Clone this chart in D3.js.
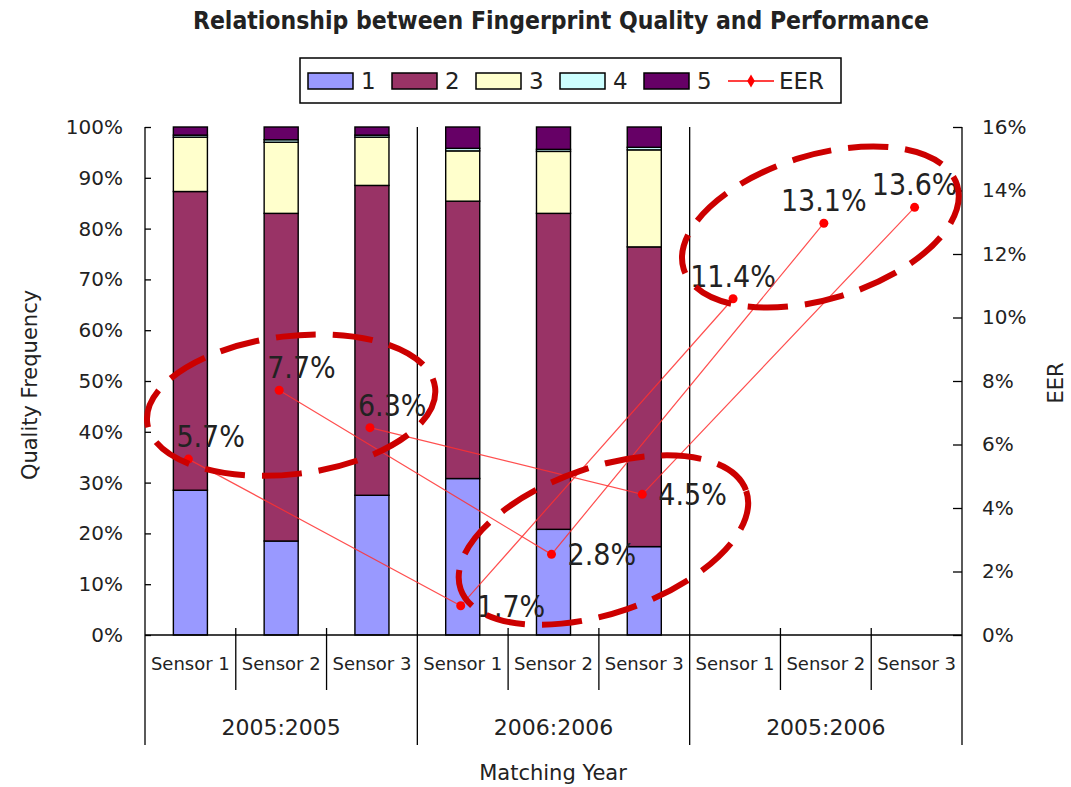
<!DOCTYPE html>
<html>
<head>
<meta charset="utf-8">
<script src="https://cdn.jsdelivr.net/npm/d3@7"></script>
<style>
    body { margin: 0; background: #fff; }
    text { font-family: "DejaVu Sans", Verdana, sans-serif; fill: #222; }
</style>
</head>
<body>
<svg id="chart" width="1071" height="787"></svg>
<script>
// data
var groups = ["2005:2005", "2006:2006", "2005:2006"];
var sensors = ["Sensor 1", "Sensor 2", "Sensor 3"];
var qualityLevels = ["1", "2", "3", "4", "5"];
var qualityColors = ["#9999FF", "#993366", "#FFFFCC", "#CCFFFF", "#660066"];

// share of each quality level (%), one value per bar (2005:2006 has no bars)
var quality1 = [28.5, 18.5, 27.5, 30.8, 20.8, 17.4];
var quality2 = [58.8, 64.5, 61.0, 54.6, 62.2, 59.0];
var quality3 = [10.7, 14.0, 9.5, 9.9, 12.2, 19.1];
var quality4 = [0.4, 0.5, 0.4, 0.5, 0.4, 0.5];
var quality5 = [1.6, 2.5, 1.6, 4.2, 4.4, 4.0];

// EER per sensor, across the three groups (%)
var eerSensor1 = [5.54, 0.92, 10.59];
var eerSensor2 = [7.71, 2.54, 12.97];
var eerSensor3 = [6.53, 4.43, 13.47];
var eerLabels1 = ["5.7%", "1.7%", "11.4%"];
var eerLabels2 = ["7.7%", "2.8%", "13.1%"];
var eerLabels3 = ["6.3%", "4.5%", "13.6%"];
var labelPlacement = ["aboveRight", "right", "above"]; // by group

// hand drawn dashed rings (centre in category steps / EER)
var rings = [
    { cat: 1.11, eer: 7.24, rx: 145, ry: 69, angle: -7 },
    { cat: 4.55, eer: 2.99, rx: 151, ry: 73, angle: -19 },
    { cat: 6.94, eer: 12.85, rx: 143, ry: 72, angle: -17 }
];

var chart = (function () {
    var svg = d3.select("#chart");
    var plot = { left: 145, right: 962, top: 127, bottom: 635 };

    function init() {
        var categories = [];
        groups.forEach(function (g) {
            sensors.forEach(function (s) { categories.push(g + "|" + s); });
        });

        var x = d3.scaleBand()
            .domain(categories)
            .range([plot.left, plot.right])
            .paddingInner(0.625)
            .paddingOuter(0.3125);
        var y = d3.scaleLinear().domain([0, 1]).range([plot.bottom, plot.top]);
        var yEer = d3.scaleLinear().domain([0, 0.16]).range([plot.bottom, plot.top]);

        drawBars(x, y, categories);
        drawAxes(x, y, yEer, categories);
        drawEer(x, yEer);
        drawRings(x, yEer);
        drawLegend();
        drawTitles();
    }

    function drawBars(x, y, categories) {
        var series = [quality1, quality2, quality3, quality4, quality5];
        var rows = [];
        for (var i = 0; i < quality1.length; i++) {
            var row = { id: categories[i] };
            qualityLevels.forEach(function (k, j) { row[k] = series[j][i] / 100; });
            rows.push(row);
        }
        var stacked = d3.stack().keys(qualityLevels)(rows);

        svg.append("g")
            .selectAll("g")
            .data(stacked)
            .enter().append("g")
            .attr("fill", function (d, i) { return qualityColors[i]; })
            .selectAll("rect")
            .data(function (d) { return d; })
            .enter().append("rect")
            .attr("x", function (d) { return x(d.data.id); })
            .attr("y", function (d) { return y(d[1]); })
            .attr("width", x.bandwidth())
            .attr("height", function (d) { return y(d[0]) - y(d[1]); })
            .attr("stroke", "#000")
            .attr("stroke-width", 1.4);
    }

    function drawAxes(x, y, yEer, categories) {
        var left = svg.append("g")
            .attr("transform", "translate(" + plot.left + ",0)")
            .call(d3.axisLeft(y).tickValues(d3.range(0, 1.001, 0.1))
                .tickFormat(d3.format(".0%")).tickSize(-6).tickPadding(22));
        var right = svg.append("g")
            .attr("transform", "translate(" + plot.right + ",0)")
            .call(d3.axisRight(yEer).tickValues(d3.range(0, 0.1601, 0.02))
                .tickFormat(d3.format(".0%")).tickSize(-9).tickPadding(20));
        [left, right].forEach(function (a) {
            a.select(".domain").remove();
            a.selectAll(".tick line").attr("stroke", "#000").attr("stroke-width", 1.3);
            a.selectAll("text").style("font-size", "20px").attr("fill", "#333");
        });

        var lines = svg.append("g").attr("stroke", "#000").attr("stroke-width", 1.3);
        // baseline
        lines.append("line")
            .attr("x1", plot.left).attr("x2", plot.right)
            .attr("y1", plot.bottom).attr("y2", plot.bottom);

        var step = x.step();
        for (var i = 0; i <= categories.length; i++) {
            var xi = plot.left + step * i;
            var isGroup = i % 3 === 0;
            lines.append("line")
                .attr("x1", xi).attr("x2", xi)
                .attr("y1", isGroup ? plot.top : plot.bottom - 7)
                .attr("y2", isGroup ? 745 : 690);
        }

        svg.append("g").selectAll("text")
            .data(categories)
            .enter().append("text")
            .attr("x", function (d) { return x(d) + x.bandwidth() / 2; })
            .attr("y", 663)
            .attr("text-anchor", "middle")
            .attr("dominant-baseline", "central")
            .style("font-size", "18px")
            .attr("fill", "#333")
            .text(function (d) { return d.split("|")[1]; });

        svg.append("g").selectAll("text")
            .data(groups)
            .enter().append("text")
            .attr("x", function (d, i) { return plot.left + step * (i * 3 + 1.5); })
            .attr("y", 727)
            .attr("text-anchor", "middle")
            .attr("dominant-baseline", "central")
            .style("font-size", "22px")
            .attr("fill", "#333")
            .text(function (d) { return d; });
    }

    function drawEer(x, yEer) {
        var lineData = [
            { values: eerSensor1, labels: eerLabels1, sensor: sensors[0] },
            { values: eerSensor2, labels: eerLabels2, sensor: sensors[1] },
            { values: eerSensor3, labels: eerLabels3, sensor: sensors[2] }
        ];
        var line = d3.line()
            .x(function (d) { return d.x; })
            .y(function (d) { return d.y; });

        var g = svg.append("g");
        lineData.forEach(function (s) {
            var pts = s.values.map(function (v, i) {
                var id = groups[i] + "|" + s.sensor;
                return {
                    x: x(id) + x.bandwidth() / 2 - 2,
                    y: yEer(v / 100),
                    label: s.labels[i],
                    place: labelPlacement[i]
                };
            });
            g.append("path")
                .attr("d", line(pts))
                .attr("fill", "none")
                .attr("stroke", "#FF3030")
                .attr("stroke-opacity", 0.85)
                .attr("stroke-width", 1.2);
            g.selectAll(null).data(pts).enter().append("circle")
                .attr("cx", function (d) { return d.x; })
                .attr("cy", function (d) { return d.y; })
                .attr("r", 4.5)
                .attr("fill", "#FF0000");
            g.selectAll(null).data(pts).enter().append("text")
                .attr("x", function (d) {
                    if (d.place === "right") return d.x + 16;
                    if (d.place === "aboveRight") return d.x - 12;
                    return d.x;
                })
                .attr("y", function (d) {
                    if (d.place === "right") return d.y + 11;
                    return d.y - 12;
                })
                .attr("text-anchor", function (d) { return d.place === "above" ? "middle" : "start"; })
                .style("font-family", "'DejaVu Sans Condensed', 'DejaVu Sans', sans-serif")
                .style("font-size", "30px")
                .attr("fill", "#000")
                .text(function (d) { return d.label; });
        });
    }

    function drawRings(x, yEer) {
        svg.append("g").selectAll("ellipse")
            .data(rings)
            .enter().append("ellipse")
            .attr("transform", function (d) {
                var cx = plot.left + x.step() * (d.cat + 0.5);
                var cy = yEer(d.eer / 100);
                return "translate(" + cx + "," + cy + ") rotate(" + d.angle + ")";
            })
            .attr("rx", function (d) { return d.rx; })
            .attr("ry", function (d) { return d.ry; })
            .attr("fill", "none")
            .attr("stroke", "#CC0000")
            .attr("stroke-width", 6)
            .attr("stroke-dasharray", "40 17");
    }

    function drawLegend() {
        var lg = svg.append("g").attr("transform", "translate(300,58)");
        lg.append("rect")
            .attr("width", 541).attr("height", 45)
            .attr("fill", "#fff").attr("stroke", "#000").attr("stroke-width", 1.5);

        var item = lg.selectAll("g.item")
            .data(qualityLevels)
            .enter().append("g")
            .attr("class", "item")
            .attr("transform", function (d, i) { return "translate(" + (8 + i * 84) + ",0)"; });
        item.append("rect")
            .attr("y", 15).attr("width", 45).attr("height", 16)
            .attr("fill", function (d, i) { return qualityColors[i]; })
            .attr("stroke", "#000").attr("stroke-width", 1.5);
        item.append("text")
            .attr("x", 53).attr("y", 23)
            .attr("dominant-baseline", "central")
            .style("font-size", "23px")
            .text(function (d) { return d; });

        var eer = lg.append("g").attr("transform", "translate(428,0)");
        eer.append("line")
            .attr("x1", 0).attr("x2", 46).attr("y1", 23).attr("y2", 23)
            .attr("stroke", "#FF0000").attr("stroke-width", 1.5);
        eer.append("path")
            .attr("d", d3.symbol(d3.symbolDiamond, 50)())
            .attr("transform", "translate(23,23)")
            .attr("fill", "#FF0000");
        eer.append("text")
            .attr("x", 51).attr("y", 23)
            .attr("dominant-baseline", "central")
            .style("font-size", "23px")
            .text("EER");
    }

    function drawTitles() {
        svg.append("text")
            .attr("x", 561).attr("y", 20)
            .attr("text-anchor", "middle")
            .attr("dominant-baseline", "central")
            .style("font-family", "'DejaVu Sans Condensed', 'DejaVu Sans', sans-serif")
            .style("font-weight", "bold")
            .style("font-size", "24.5px")
            .attr("fill", "#000")
            .text("Relationship between Fingerprint Quality and Performance");

        svg.append("text")
            .attr("transform", "translate(30,385) rotate(-90)")
            .attr("text-anchor", "middle")
            .attr("dominant-baseline", "central")
            .style("font-size", "21px")
            .text("Quality Frequency");

        svg.append("text")
            .attr("transform", "translate(1056,383) rotate(-90)")
            .attr("text-anchor", "middle")
            .attr("dominant-baseline", "central")
            .style("font-size", "21px")
            .text("EER");

        svg.append("text")
            .attr("x", 553).attr("y", 773)
            .attr("text-anchor", "middle")
            .attr("dominant-baseline", "central")
            .style("font-size", "21px")
            .text("Matching Year");
    }

    return { init: init };
})();

chart.init();
</script>
</body>
</html>
